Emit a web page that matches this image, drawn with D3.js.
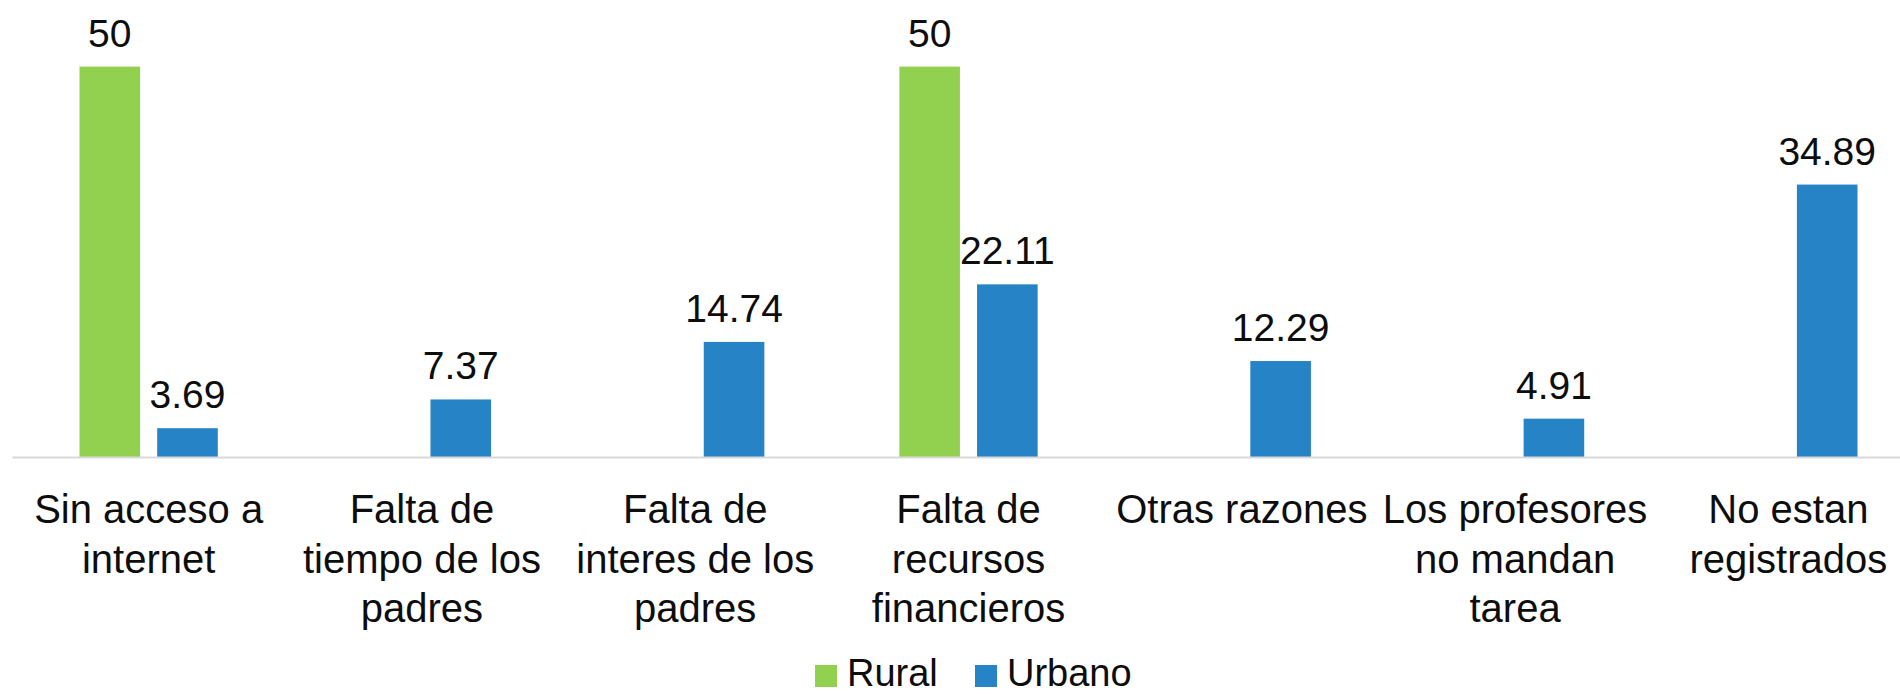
<!DOCTYPE html>
<html>
<head>
<meta charset="utf-8">
<script src="https://cdn.jsdelivr.net/npm/d3@7"></script>
<style>
  body { margin: 0; background: #fff; }
  text { font-family: "Liberation Sans", Arial, sans-serif; fill: #0d0d0d; }
</style>
</head>
<body>
<div id="container"></div>
<script>
let w = 1900;
let h = 695;

// data
let categories = [
  "Sin acceso a internet",
  "Falta de tiempo de los padres",
  "Falta de interes de los padres",
  "Falta de recursos financieros",
  "Otras razones",
  "Los profesores no mandan tarea",
  "No estan registrados"
];
// how each category label wraps
let categoryLines = [
  ["Sin acceso a", "internet"],
  ["Falta de", "tiempo de los", "padres"],
  ["Falta de", "interes de los", "padres"],
  ["Falta de", "recursos", "financieros"],
  ["Otras razones"],
  ["Los profesores", "no mandan", "tarea"],
  ["No estan", "registrados"]
];
let seriesNames = ["Rural", "Urbano"];
let ruralValues = [50, null, null, 50, null, null, null];
let urbanoValues = [3.69, 7.37, 14.74, 22.11, 12.29, 4.91, 34.89];

let colors = { Rural: "#92D050", Urbano: "#2683C6" };

let viz = d3.select("#container")
  .append("svg")
    .attr("width", w)
    .attr("height", h)
    .style("background-color", "white");

let baseY = 457;

// scales
let xScale = d3.scaleBand()
  .domain(categories)
  .range([12, 1925])
  .paddingInner(0.494)
  .paddingOuter(0.247);

let innerScale = d3.scaleBand()
  .domain(seriesNames)
  .range([0, xScale.bandwidth()])
  .paddingInner(0.22)
  .paddingOuter(0);

let yScale = d3.scaleLinear().domain([0, 50]).range([baseY, 66.6]);

// flatten to one record per bar
let bars = [];
categories.forEach(function(c, i){
  if (ruralValues[i] != null) bars.push({cat: c, series: "Rural", value: ruralValues[i]});
  if (urbanoValues[i] != null) bars.push({cat: c, series: "Urbano", value: urbanoValues[i]});
});

// bars
viz.selectAll(".bar").data(bars).enter()
  .append("rect")
    .attr("class", "bar")
    .attr("x", d => xScale(d.cat) + innerScale(d.series))
    .attr("y", d => yScale(d.value))
    .attr("width", innerScale.bandwidth())
    .attr("height", d => baseY - yScale(d.value))
    .attr("fill", d => colors[d.series]);

// value labels
viz.selectAll(".vlabel").data(bars).enter()
  .append("text")
    .attr("class", "vlabel")
    .attr("x", d => xScale(d.cat) + innerScale(d.series) + innerScale.bandwidth() / 2)
    .attr("y", d => yScale(d.value) - 20)
    .attr("text-anchor", "middle")
    .style("font-size", "39px")
    .text(d => d.value);

// x axis
let xAxis = d3.axisBottom(xScale).tickSize(0).tickSizeOuter(0).tickFormat("");
let xAxisGroup = viz.append("g")
  .attr("class", "xaxis")
  .attr("transform", "translate(0," + baseY + ")")
  .call(xAxis);
xAxisGroup.select(".domain").attr("stroke", "#d9d9d9").attr("stroke-width", 2);
xAxisGroup.selectAll(".tick text").remove();

xAxisGroup.selectAll(".tick").each(function(d, i){
  let t = d3.select(this).append("text")
    .attr("text-anchor", "middle")
    .style("font-size", "40px")
    .attr("fill", "#0d0d0d");
  categoryLines[i].forEach(function(line, j){
    t.append("tspan")
      .attr("x", 0)
      .attr("y", 66 + j * 49.5)
      .text(line);
  });
});

// legend
let legendItems = [
  {name: "Rural", x: 815},
  {name: "Urbano", x: 975}
];
let legend = viz.selectAll(".legend").data(legendItems).enter()
  .append("g")
    .attr("class", "legend")
    .attr("transform", d => "translate(" + d.x + ",665)");
legend.append("rect")
  .attr("width", 22)
  .attr("height", 22)
  .attr("fill", d => colors[d.name]);
legend.append("text")
  .attr("x", 32)
  .attr("y", 21)
  .style("font-size", "38px")
  .text(d => d.name);
</script>
</body>
</html>
